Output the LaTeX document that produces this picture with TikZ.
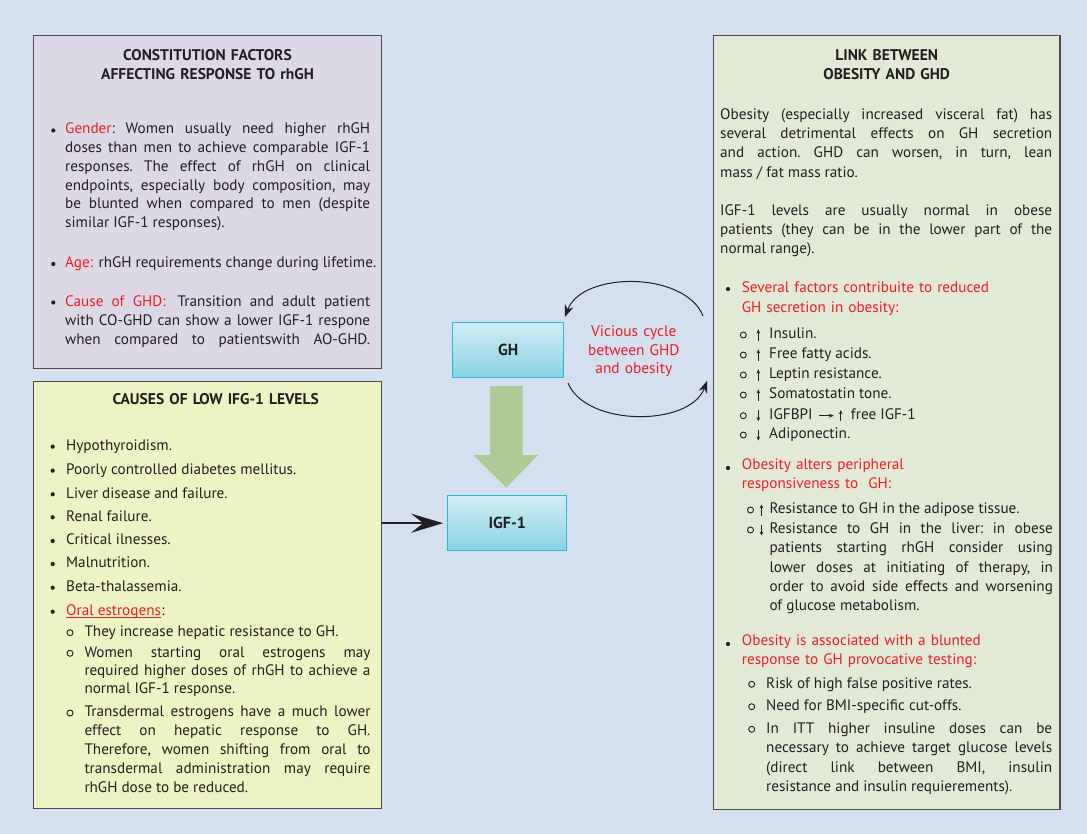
\documentclass[tikz,border=0pt]{standalone}
\usepackage{fontspec}
\setmainfont{PT Sans}
\usetikzlibrary{arrows.meta}
\definecolor{bgc}{RGB}{212,223,240}
\definecolor{boxa}{RGB}{221,216,230}
\definecolor{boxb}{RGB}{238,243,197}
\definecolor{boxc}{RGB}{226,234,214}
\definecolor{edge}{RGB}{77,77,77}
\definecolor{redc}{RGB}{237,28,36}
\definecolor{ink}{RGB}{35,31,32}
\definecolor{greenc}{RGB}{174,202,149}
\definecolor{cyantop}{RGB}{210,237,243}
\definecolor{cyanbot}{RGB}{137,210,227}
\definecolor{cyanedge}{RGB}{38,188,210}
\newcommand\rd[1]{\textcolor{redc}{#1}}
\newcommand\jl[1]{#1\linebreak}
\frenchspacing
\begin{document}
\begin{tikzpicture}[x=1pt,y=-1pt,
  panel/.style={draw=edge, line width=1.3pt, inner sep=0pt, outer sep=0pt},
  gbox/.style={draw=cyanedge, line width=1pt, top color=cyantop, bottom color=cyanbot, inner sep=0pt, font=\bfseries\fontsize{16}{18}\selectfont, text=ink},
  ttl/.style={inner sep=0pt, anchor=base, text width=340pt, align=center, font=\bfseries\fontsize{15.5}{19.3}\selectfont, text=ink},
  txt/.style={inner sep=0pt, anchor=base west, align=left, font=\fontsize{15.2}{19.2}\selectfont, text=ink},
  para/.style={txt, text width=#1, align=justify, execute at begin node={\frenchspacing\hyphenpenalty=10000\exhyphenpenalty=10000\parindent=0pt\emergencystretch=0pt}},
  fullast/.style={execute at begin node={\parfillskip=0pt}},
  rtxt/.style={txt, text=redc},
  dot/.style={fill=ink},
  ring/.style={draw=ink, line width=0.9pt},
  upd/.style={draw=ink, line width=0.7pt, -{Stealth[length=4pt,width=3.6pt]}},
  cyc/.style={draw=ink, line width=1pt, -{Stealth[length=12pt,width=9pt,inset=4pt]}}
]
\fill[bgc] (0,0) rectangle (1087,834);
\useasboundingbox (0,0) rectangle (1087,834);

% panels
\node[panel, fill=boxa, minimum width=348.4pt, minimum height=332.6pt] (b1) at (207.5,202) {};
\node[panel, fill=boxb, minimum width=348.4pt, minimum height=426.8pt] (b2) at (207.5,595.1) {};
\node[panel, fill=boxc, minimum width=346.7pt, minimum height=773.6pt] (b3) at (886.7,422.5) {};

% central boxes
\node[gbox, minimum width=111.3pt, minimum height=55pt] (gh) at (508.3,349.8) {GH};
\node[gbox, minimum width=119pt, minimum height=55pt] (igf) at (507.2,523.2) {IGF-1};

% green block arrow
\fill[greenc] (490,386) -- (522.7,386) -- (522.7,455) -- (538,455) -- (506.3,487.7) -- (473.3,455) -- (490,455) -- cycle;

% black arrow
\draw[ink, line width=2.4pt, -{Stealth[length=32pt,width=19pt,inset=12pt]}, shorten >=4pt] (b2.east |- igf.west) -- (igf.west);

% vicious cycle
\coordinate (p1) at (703,316);
\coordinate (p2) at (565,317);
\coordinate (p3) at (568,383);
\coordinate (p4) at (707,381);
\draw[cyc] (p1) .. controls (685,271) and (582,271) .. (p2);
\draw[cyc] (p3) .. controls (586,427) and (690,427) .. (p4);
\node[inner sep=0pt, anchor=base, text width=150pt, align=center, font=\fontsize{15.4}{18.7}\selectfont, text=redc] (vc) at (633.8,336.5) {Vicious cycle\\between GHD\\and obesity};

% ---------- panel 1
\node[ttl] (t1) at (207.5,60.5) {CONSTITUTION FACTORS\\AFFECTING RESPONSE TO rhGH};
\fill[dot] (53.3,130.5) circle (2.1pt);
\node[para=305pt, font=\fontsize{15.2}{18.8}\selectfont] (g1) at (65,133.8) {\jl{\rd{Gender}: Women usually need higher rhGH}\jl{doses than men to achieve comparable IGF-1}\jl{responses. The effect of rhGH on clinical}\jl{endpoints, especially body composition, may}\jl{be blunted when compared to men (despite}similar IGF-1 responses).};
\fill[dot] (53.3,264) circle (2.1pt);
\node[txt] (a1) at (65,267.1) {\rd{Age:}\hspace{5.5pt}rhGH requirements change during lifetime.};
\fill[dot] (53.3,302.5) circle (2.1pt);
\node[para=305pt, fullast] (c1) at (65,306.1) {\jl{\rd{Cause of GHD:}\hspace{12pt}Transition and adult patient}\jl{with CO-GHD can show a lower IGF-1 respone}when compared to patientswith AO-GHD.};

% ---------- panel 2
\node[ttl] (t2) at (215.7,404.5) {CAUSES OF LOW IFG-1 LEVELS};
\fill[dot] (52.7,446.7) circle (2.1pt);
\node[txt] (l1) at (66,450.5) {Hypothyroidism.};
\fill[dot] (52.7,470.7) circle (2.1pt);
\node[txt] (l2) at (66,474.5) {Poorly controlled diabetes mellitus.};
\fill[dot] (52.7,494.3) circle (2.1pt);
\node[txt] (l3) at (66,498.1) {Liver disease and failure.};
\fill[dot] (52.7,517.3) circle (2.1pt);
\node[txt] (l4) at (66,521.1) {Renal failure.};
\fill[dot] (52.7,541) circle (2.1pt);
\node[txt] (l5) at (66,544.8) {Critical ilnesses.};
\fill[dot] (52.7,564) circle (2.1pt);
\node[txt] (l6) at (66,567.8) {Malnutrition.};
\fill[dot] (52.7,587.7) circle (2.1pt);
\node[txt] (l7) at (66,591.5) {Beta-thalassemia.};
\fill[dot] (52.7,611.7) circle (2.1pt);
\node[txt, text=redc] (oral) at (66,615.5) {Oral estrogens};
\node[txt] (colon) at (oral.base east) {:};
\draw[redc, line width=0.8pt] ([yshift=-2.2pt]oral.base west) -- ([yshift=-2.2pt]oral.base east);
\draw[ring] (70,632.7) circle (3pt);
\node[txt] (e1) at (84.3,636.5) {They increase hepatic resistance to GH.};
\draw[ring] (70,653.3) circle (3pt);
\node[para=286pt, font=\fontsize{15.2}{18.2}\selectfont] (e2) at (84.3,657.1) {\jl{Women starting oral estrogens may}\jl{required higher doses of rhGH to achieve a}normal IGF-1 response.};
\draw[ring] (70,713) circle (3pt);
\node[para=286pt, font=\fontsize{15.2}{19}\selectfont] (e3) at (84.3,716.8) {\jl{Transdermal estrogens have a much lower}\jl{effect on hepatic response to GH.}\jl{Therefore, women shifting from oral to}\jl{transdermal administration may require}rhGH dose to be reduced.};

% ---------- panel 3
\node[ttl] (t3) at (886.7,60.5) {LINK BETWEEN\\OBESITY AND GHD};
\node[para=332pt, font=\fontsize{15.2}{19.1}\selectfont] (o1) at (720,119.8) {\jl{Obesity (especially increased visceral fat) has}\jl{several detrimental effects on GH secretion}\jl{and action. GHD can worsen, in turn, lean}mass / fat mass ratio.};
\node[para=332pt] (o2) at (720,215.5) {\jl{IGF-1 levels are usually normal in obese}\jl{patients (they can be in the lower part of the}normal range).};

\fill[dot] (728,289) circle (2.1pt);
\node[rtxt, text width=300pt, font=\fontsize{15.2}{19.3}\selectfont] (r1) at (741.7,292.8) {Several factors contribuite to reduced\\GH secretion in obesity:};
\draw[ring] (743.3,335) circle (3pt);
\draw[upd] (758.3,340.5) -- (758.3,329.5);
\node[txt] (s1) at (769,338.8) {Insulin.};
\draw[ring] (743.3,355) circle (3pt);
\draw[upd] (758.3,360.5) -- (758.3,349.5);
\node[txt] (s2) at (769,358.8) {Free fatty acids.};
\draw[ring] (743.3,375) circle (3pt);
\draw[upd] (758.3,380.5) -- (758.3,369.5);
\node[txt] (s3) at (769,378.8) {Leptin resistance.};
\draw[ring] (743.3,395) circle (3pt);
\draw[upd] (758.3,400.5) -- (758.3,389.5);
\node[txt] (s4) at (769,398.8) {Somatostatin tone.};
\draw[ring] (743.3,415.7) circle (3pt);
\draw[upd] (758.3,410.2) -- (758.3,421.2);
\node[txt] (s5) at (769,419.5) {IGFBPI};
\coordinate (h1) at ([xshift=6.5pt,yshift=3.8pt]s5.base east);
\coordinate (h2) at ([xshift=21pt,yshift=3.8pt]s5.base east);
\draw[draw=ink, line width=0.8pt, -{Stealth[length=5pt,width=4pt]}] (h1) -- (h2);
\draw[upd] ([xshift=28pt,yshift=-1.7pt]s5.base east) -- ([xshift=28pt,yshift=9.3pt]s5.base east);
\node[txt] (s5b) at ([xshift=38pt]s5.base east) {free IGF-1};
\draw[ring] (743.3,435) circle (3pt);
\draw[upd] (758.3,429.5) -- (758.3,440.5);
\node[txt] (s6) at (769,438.8) {Adiponectin.};

\fill[dot] (728,468) circle (2.1pt);
\node[rtxt, text width=300pt, font=\fontsize{15.2}{19}\selectfont] (r2) at (741.7,469.8) {Obesity alters peripheral\\responsiveness to\ \ GH:};
\draw[ring] (750.5,510) circle (3pt);
\draw[upd] (761.5,515.5) -- (761.5,504.5);
\node[txt] (u1) at (769.3,513.8) {Resistance to GH in the adipose tissue.};
\draw[ring] (750.5,530) circle (3pt);
\draw[upd] (761.5,524.5) -- (761.5,535.5);
\node[para=283.4pt, font=\fontsize{15.2}{19.1}\selectfont] (u2) at (769.3,533.8) {\jl{Resistance to GH in the liver: in obese}\jl{patients starting rhGH consider using}\jl{lower doses at initiating of therapy, in}\jl{order to avoid side effects and worsening}of glucose metabolism.};

\fill[dot] (728,644) circle (2.1pt);
\node[rtxt, text width=300pt, font=\fontsize{15.2}{19.3}\selectfont] (r3) at (741.7,645.5) {Obesity is associated with a blunted\\response to GH provocative testing:};
\draw[ring] (751.7,684.3) circle (3pt);
\node[txt] (v1) at (766,688.1) {Risk of high false positive rates.};
\draw[ring] (751.7,706.7) circle (3pt);
\node[txt] (v2) at (766,710.5) {Need for BMI-specific cut-offs.};
\draw[ring] (751.7,729.3) circle (3pt);
\node[para=286pt, font=\fontsize{15.2}{19.5}\selectfont] (v3) at (766,733.1) {\jl{In ITT higher insuline doses can be}\jl{necessary to achieve target glucose levels}\jl{(direct link between BMI, insulin}resistance and insulin requierements).};
\end{tikzpicture}
\end{document}
